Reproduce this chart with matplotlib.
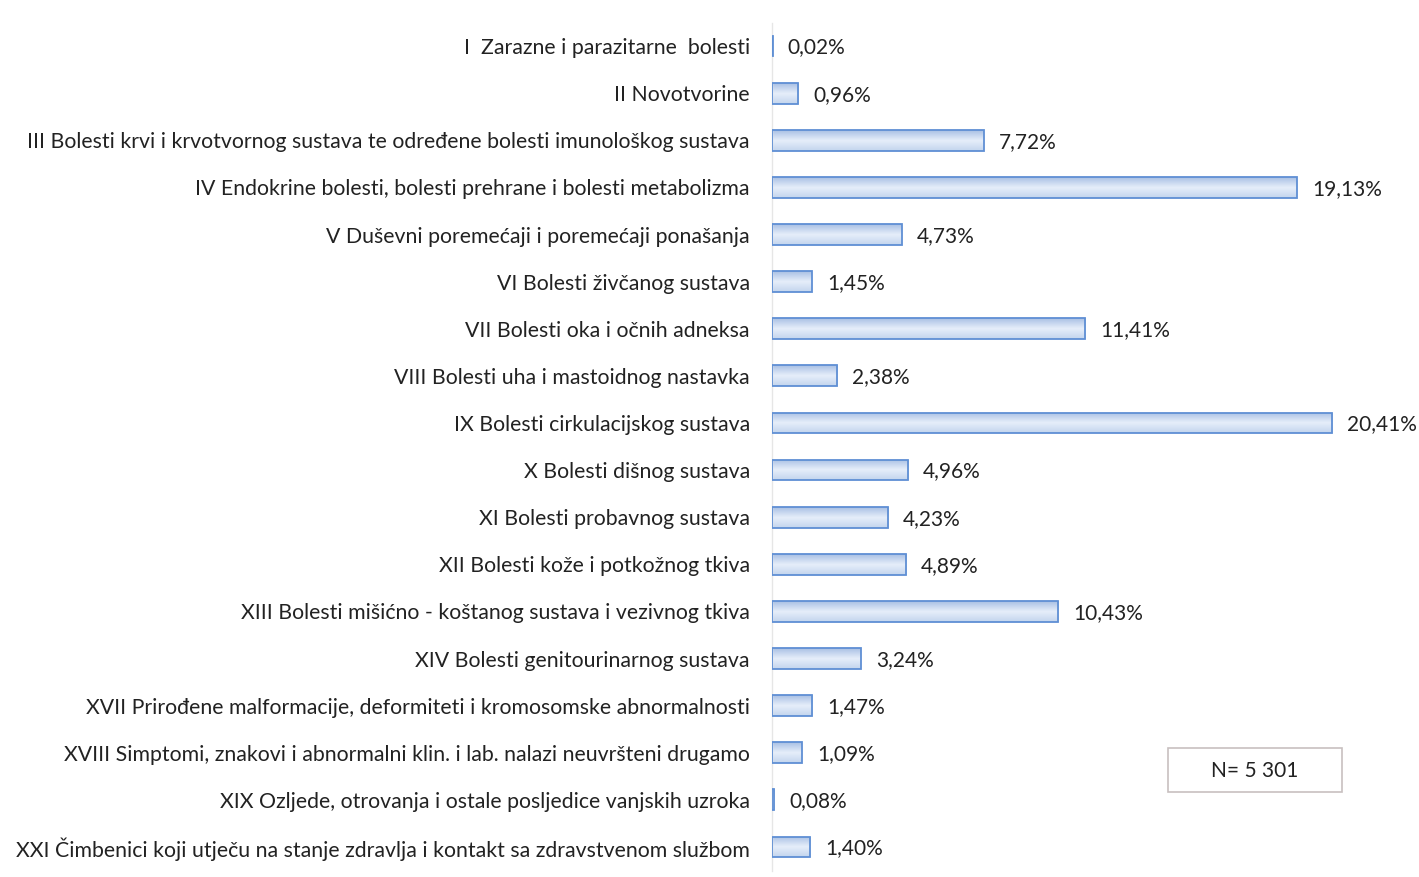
import numpy as np
import matplotlib.pyplot as plt
from matplotlib.patches import Rectangle
from matplotlib.colors import LinearSegmentedColormap

categories = [
    "I  Zarazne i parazitarne  bolesti",
    "II Novotvorine",
    "III Bolesti krvi i krvotvornog sustava te određene bolesti imunološkog sustava",
    "IV Endokrine bolesti, bolesti prehrane i bolesti metabolizma",
    "V Duševni poremećaji i poremećaji ponašanja",
    "VI Bolesti živčanog sustava",
    "VII Bolesti oka i očnih adneksa",
    "VIII Bolesti uha i mastoidnog nastavka",
    "IX Bolesti cirkulacijskog sustava",
    "X Bolesti dišnog sustava",
    "XI Bolesti probavnog sustava",
    "XII Bolesti kože i potkožnog tkiva",
    "XIII Bolesti mišićno - koštanog sustava i vezivnog tkiva",
    "XIV Bolesti genitourinarnog sustava",
    "XVII Prirođene malformacije, deformiteti i kromosomske abnormalnosti",
    "XVIII Simptomi, znakovi i abnormalni klin. i lab. nalazi neuvršteni drugamo",
    "XIX Ozljede, otrovanja i ostale posljedice vanjskih uzroka",
    "XXI Čimbenici koji utječu na stanje zdravlja i kontakt sa zdravstvenom službom",
]
values = [0.02, 0.96, 7.72, 19.13, 4.73, 1.45, 11.41, 2.38, 20.41, 4.96,
          4.23, 4.89, 10.43, 3.24, 1.47, 1.09, 0.08, 1.40]
n_text = "N= 5 301"

plt.rcParams['font.family'] = ['Lato', 'DejaVu Sans']

fig = plt.figure(figsize=(14.19, 8.77), dpi=100)
ax = fig.add_axes([772 / 1419, 0.0074, 1 - 772 / 1419, 0.9669])

y = np.arange(len(categories))
bar_h = 0.44
bars = ax.barh(y, values, height=bar_h, facecolor='none', edgecolor='#5f8fd4', linewidth=1.3, zorder=3)

# vertical gradient inside each bar
cmap = LinearSegmentedColormap.from_list('g', ['#a9c0e4', '#e6eefa', '#c3d5ee'])
grad = np.linspace(0, 1, 64).reshape(-1, 1)
for b in bars:
    x0, y0 = b.get_x(), b.get_y()
    w, h = b.get_width(), b.get_height()
    im = ax.imshow(grad, cmap=cmap, extent=(x0, x0 + w, y0 + h, y0),
                   aspect='auto', zorder=2, interpolation='bilinear')
    im.set_clip_path(b)

for yi, v in zip(y, values):
    ax.text(v + 0.55, yi + 0.03, f"{v:.2f}%".replace('.', ','), va='center', ha='left',
            fontsize=15, color='#222222')

ax.set_xlim(0, 647 / 27.44)
ax.set_ylim(len(categories) - 0.5, -0.5)
ax.set_yticks(y)
ax.set_yticklabels(categories, fontsize=15.3, color='#222222')
ax.tick_params(axis='y', length=0, pad=16)
ax.set_xticks([])
for s in ['top', 'right', 'bottom']:
    ax.spines[s].set_visible(False)
ax.spines['left'].set_color('#e6e6e6')
ax.spines['left'].set_linewidth(1)

box = Rectangle((1168 / 1419, 1 - 792 / 877), 174 / 1419, 44 / 877, transform=fig.transFigure,
                facecolor='white', edgecolor='#c8c0c0', linewidth=1.2)
fig.patches.append(box)
fig.text(1255 / 1419, 1 - 771 / 877, n_text, ha='center', va='center', fontsize=15, color='#222222')

fig.savefig('out.png', dpi=100)
